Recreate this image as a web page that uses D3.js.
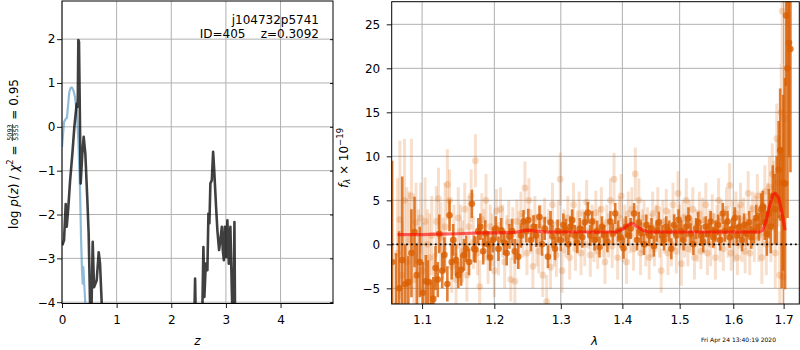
<!DOCTYPE html>
<html><head><meta charset="utf-8">
<script src="https://cdn.jsdelivr.net/npm/d3@7"></script>
<style>
body{margin:0;background:#fff;}
text{font-family:"DejaVu Sans",sans-serif;white-space:pre;}
</style></head>
<body>
<svg id="c" width="800" height="350"></svg>
<script>
// ---------------- DATA ----------------
// left panel: redshift PDF
const zBlack = [0.005,0.037,0.068,0.086,0.116,0.147,0.19,0.226,0.269,0.288,0.299,0.311,0.342,0.372,0.397,0.427,0.464,0.488,0.513,0.53,0.545,0.562,0.586,0.635,0.672,0.696,0.727,0.76,1.5,2.3,2.42,2.436,2.45,2.5,2.565,2.588,2.606,2.632,2.661,2.68,2.698,2.716,2.742,2.766,2.789,2.82,2.844,2.875,2.899,2.925,2.943,2.962,2.98,3.004,3.027,3.053,3.082,3.108,3.126,3.14,3.156,3.168,3.2,4.96];
const pBlack = [-2.70,-2.59,-1.76,-2.28,-1.83,-1.25,-0.61,0.0,0.53,0.46,1.98,1.94,-1.29,-0.61,-0.23,-0.61,-1.67,-2.44,-4.0,-4.8,-3.8,-2.62,-3.66,-3.5,-2.86,-3.12,-4.03,-9,-12,-9,-4.5,-3.46,-4.5,-7,-4.5,-2.74,-3.88,-3.12,-3.27,-1.98,-2.2,-1.29,-1.22,-0.57,-1.06,-1.83,-2.36,-2.81,-2.59,-2.28,-2.81,-3.04,-2.28,-2.97,-2.13,-3.12,-2.28,-3.73,-4.5,-4.2,-2.17,-4.5,-8,-12];
const zBlue = [0.0,0.037,0.073,0.09,0.134,0.155,0.178,0.207,0.238,0.269,0.299,0.33,0.348,0.366,0.379,0.39,0.403,0.427,0.45,0.5,0.6];
const pBlue = [-0.46,0.11,0.19,0.2,0.8,0.88,0.9,0.84,0.68,0.38,-0.3,-1.44,-2.51,-3.27,-3.58,-3.2,-3.5,-4.03,-5,-7,-12];
const zTicks = [0,1,2,3,4];
const pTicks = [-4,-3,-2,-1,0,1,2];
const titleLines = ["j104732p5741","ID=405    z=0.3092"];

// right panel: spectrum (light = individual, dark = combined)
const lamLight = [1.068,1.071,1.074,1.077,1.080,1.083,1.086,1.089,1.092,1.095,1.098,1.101,1.104,1.107,1.110,1.113,1.116,1.119,1.122,1.125,1.128,1.131,1.134,1.137,1.140,1.143,1.146,1.149,1.152,1.155,1.158,1.161,1.164,1.167,1.170,1.173,1.176,1.179,1.182,1.185,1.188,1.191,1.194,1.197,1.200,1.203,1.206,1.209,1.212,1.215,1.218,1.221,1.224,1.227,1.230,1.233,1.236,1.239,1.242,1.245,1.248,1.251,1.254,1.257,1.260,1.263,1.266,1.269,1.272,1.275,1.278,1.281,1.284,1.287,1.290,1.293,1.296,1.299,1.302,1.305,1.308,1.311,1.314,1.317,1.320,1.323,1.326,1.329,1.332,1.335,1.338,1.341,1.344,1.347,1.350,1.353,1.356,1.359,1.362,1.365,1.368,1.371,1.374,1.377,1.380,1.383,1.386,1.389,1.392,1.395,1.398,1.401,1.404,1.407,1.410,1.413,1.416,1.419,1.422,1.425,1.428,1.431,1.434,1.437,1.440,1.443,1.446,1.449,1.452,1.455,1.458,1.461,1.464,1.467,1.470,1.473,1.476,1.479,1.482,1.485,1.488,1.491,1.494,1.497,1.500,1.503,1.506,1.509,1.512,1.515,1.518,1.521,1.524,1.527,1.530,1.533,1.536,1.539,1.542,1.545,1.548,1.551,1.554,1.557,1.560,1.563,1.566,1.569,1.572,1.575,1.578,1.581,1.584,1.587,1.590,1.593,1.596,1.599,1.602,1.605,1.608,1.611,1.614,1.617,1.620,1.623,1.626,1.629,1.632,1.635,1.638,1.641,1.644,1.647,1.650,1.653,1.656,1.659,1.662,1.665,1.668,1.671,1.674,1.677,1.680,1.683,1.686,1.689,1.692,1.695,1.697,1.699,1.701];
const fluxLight = [-1.0,2.8,-3.5,5.0,-2.0,0.5,5.5,-4.0,2.5,-2.0,3.0,-3.0,2.6,0.0,-1.5,1.0,-4.5,2.6,5.2,0.8,-0.5,2.0,6.8,5.0,-2.5,0.5,-4.0,3.0,1.5,-0.8,4.0,-3.5,2.0,5.5,0.2,9.5,-1.0,-4.8,2.8,1.0,5.0,-1.5,2.0,0.5,-3.0,3.8,-0.5,4.0,1.5,-2.0,0.8,2.5,-4.0,1.2,-4.2,2.6,0.2,3.5,1.0,6.4,-1.0,5.0,1.5,-2.5,3.0,0.5,-0.8,2.0,-3.5,2.8,-6.5,1.5,-2.6,4.5,0.0,-1.2,2.5,7.4,-3.0,1.5,0.5,3.0,-1.5,2.0,4.5,-0.5,1.2,3.5,-1.0,2.0,0.0,4.8,1.5,-1.2,2.5,0.5,3.6,-0.8,1.8,4.0,0.5,-2.0,2.5,1.0,5.0,-0.2,7.4,2.0,-1.5,3.0,5.5,0.5,2.5,-2.0,3.5,1.0,4.0,-0.5,8.0,2.0,5.0,-1.0,1.5,3.0,0.0,2.2,-1.5,1.0,3.5,-0.5,2.0,4.0,0.5,-3.0,2.5,1.0,3.8,-1.0,2.0,0.0,4.5,1.5,-0.8,5.8,2.0,-2.2,3.0,1.0,5.0,-0.5,2.5,1.0,4.0,-1.5,2.0,0.5,3.5,-0.8,2.8,1.0,4.5,-1.0,2.0,0.0,3.2,1.5,-1.5,2.5,5.0,0.5,3.0,-0.5,2.0,4.0,1.0,6.7,-1.0,2.5,0.5,3.5,-1.5,2.0,4.5,0.0,2.8,-0.8,1.5,5.8,-1.0,2.0,4.0,0.5,3.0,5.5,1.0,3.5,-1.5,2.5,6.0,0.0,4.0,6.5,2.0,8.0,5.5,-1.0,12.0,7.0,-3.5,15.0,26.5,-3.7,14.3];
const errLight = [8.5,9.0,6.0,7.0,8.5,5.5,6.5,5.0,4.5,6.0,4.0,5.5,5.0,4.0,5.0,4.5,3.5,4.0,3.5,4.0,3.5,5.0,4.0,3.5,3.0,4.0,3.0,3.5,3.0,3.5,3.0,3.0,3.5,3.0,3.0,3.0,2.5,3.0,3.0,3.0,3.0,3.0,2.5,3.0,3.0,2.5,3.0,2.5,3.0,3.0,2.5,2.5,2.5,3.0,2.5,2.5,3.0,2.5,2.5,3.0,2.5,2.5,2.5,2.5,2.5,3.0,2.5,2.5,2.5,2.5,3.0,2.5,2.5,2.5,2.5,2.5,2.5,3.0,2.5,2.5,2.0,2.5,2.5,2.0,2.5,2.5,2.0,2.5,2.5,2.0,2.5,2.5,2.0,2.5,2.0,2.5,2.5,2.0,2.5,2.5,2.0,2.5,2.0,2.5,2.5,2.5,3.0,2.0,2.5,2.5,2.5,2.5,2.0,2.5,2.5,2.0,2.5,2.5,3.0,2.5,2.5,2.5,2.5,2.0,2.5,2.0,2.5,2.5,2.5,2.0,2.5,2.5,2.0,2.5,2.5,2.0,2.5,2.5,2.0,2.5,2.5,2.0,2.5,2.5,2.5,2.5,2.0,2.5,2.5,2.0,2.5,2.0,2.5,2.5,2.0,2.5,2.5,2.0,2.5,2.0,2.5,2.5,2.0,2.5,2.5,2.0,2.5,2.0,2.5,2.5,2.0,2.5,2.0,2.5,2.5,2.5,2.0,2.5,2.5,2.5,2.0,2.5,2.5,2.0,2.5,2.5,2.0,2.5,2.5,2.5,2.0,2.5,2.5,2.5,3.0,2.5,3.0,2.5,3.0,3.5,3.0,3.5,4.0,3.5,4.0,4.0,4.0,5.0,5.0,5.5,6.0,8.0,6.0,6.0];

const lamDark = [1.061,1.066,1.070,1.074,1.078,1.082,1.086,1.090,1.093,1.097,1.101,1.105,1.108,1.112,1.115,1.118,1.121,1.123,1.127,1.130,1.134,1.137,1.140,1.142,1.146,1.149,1.153,1.157,1.160,1.164,1.168,1.171,1.173,1.177,1.180,1.184,1.187,1.191,1.194,1.198,1.202,1.206,1.210,1.214,1.218,1.222,1.226,1.230,1.235,1.239,1.243,1.247,1.250,1.254,1.258,1.262,1.267,1.271,1.275,1.280,1.284,1.287,1.291,1.295,1.300,1.304,1.308,1.312,1.315,1.318,1.322,1.326,1.330,1.334,1.338,1.343,1.347,1.350,1.354,1.358,1.362,1.366,1.370,1.375,1.380,1.384,1.388,1.393,1.397,1.402,1.406,1.410,1.414,1.420,1.425,1.428,1.432,1.437,1.441,1.446,1.450,1.454,1.459,1.463,1.468,1.472,1.476,1.481,1.485,1.490,1.494,1.498,1.503,1.507,1.512,1.516,1.520,1.525,1.530,1.534,1.539,1.543,1.548,1.553,1.557,1.562,1.566,1.571,1.575,1.580,1.584,1.589,1.593,1.598,1.603,1.607,1.612,1.617,1.621,1.626,1.631,1.635,1.640,1.645,1.650,1.655,1.658,1.662,1.666,1.670,1.674,1.678,1.682,1.686,1.690,1.693,1.696,1.699,1.703,1.705,1.708,1.711,1.714,1.720];
const fluxDark = [-2.0,-7.0,-5.0,-1.8,-4.5,-4.3,-1.0,1.4,-3.5,-2.0,-5.5,-4.2,-4.3,-7.0,-6.2,-2.7,-4.0,1.2,-3.0,-1.2,-4.5,3.3,-2.0,0.5,-1.8,-3.5,-2.9,-1.2,-0.5,-2.0,4.6,-0.5,-0.6,1.5,2.0,-0.8,1.25,0.0,-1.5,0.5,1.8,-0.5,1.6,0.2,-1.0,0.9,1.5,-0.8,-1.4,1.0,2.6,1.5,2.75,0.5,2.0,1.0,3.1,0.0,1.8,-1.4,2.5,0.9,-0.5,1.5,0.5,2.2,1.6,0.0,2.0,2.75,1.0,0.2,1.8,0.8,2.5,3.6,1.0,2.6,0.5,1.5,-0.3,2.0,1.0,0.3,2.6,1.2,3.5,1.5,0.8,-0.45,2.0,1.0,1.8,3.5,0.5,2.5,1.25,0.0,2.2,1.0,1.8,-0.2,1.5,2.5,1.0,0.5,2.0,1.5,-0.5,2.2,1.0,2.8,1.5,0.5,2.0,3.0,1.2,0.0,1.8,2.5,1.0,0.3,2.0,1.2,2.6,0.8,1.5,2.2,0.5,3.5,1.5,2.6,0.8,1.8,3.0,1.0,2.0,0.5,2.2,1.2,2.5,0.8,1.5,3.0,2.0,4.0,4.3,2.5,1.2,3.5,2.0,5.5,4.0,5.0,8.5,10.7,3.0,7.0,6.9,26.0,20.0,22.9,22.2,28.0];
const errDark = [11.5,6.0,6.5,9.5,4.5,3.0,5.0,4.0,3.5,4.0,3.5,3.0,2.5,3.0,2.5,2.5,2.0,2.2,2.0,2.0,2.0,1.8,2.0,1.8,1.8,1.5,1.8,1.8,1.5,1.5,1.6,1.5,1.5,1.5,1.5,1.5,1.5,1.5,1.5,1.4,1.4,1.4,1.4,1.4,1.4,1.4,1.4,1.4,1.4,1.4,1.3,1.3,1.3,1.3,1.3,1.3,1.3,1.3,1.3,1.3,1.3,1.3,1.3,1.3,1.3,1.3,1.3,1.2,1.2,1.2,1.2,1.2,1.2,1.2,1.2,1.2,1.2,1.2,1.2,1.2,1.2,1.2,1.2,1.2,1.2,1.2,1.2,1.2,1.2,1.2,1.2,1.2,1.2,1.2,1.2,1.2,1.2,1.2,1.2,1.2,1.2,1.2,1.2,1.2,1.2,1.2,1.2,1.2,1.2,1.2,1.2,1.2,1.2,1.2,1.2,1.2,1.2,1.2,1.2,1.2,1.2,1.2,1.2,1.2,1.2,1.2,1.2,1.2,1.2,1.2,1.2,1.2,1.2,1.2,1.2,1.2,1.3,1.3,1.3,1.3,1.3,1.3,1.4,1.5,1.6,1.8,1.8,2.0,2.5,2.8,3.0,3.5,4.0,5.0,5.5,7.0,8.0,10.0,12.0,8.0,17.0,13.0,14.0];

const lamModel = [1.068,1.10,1.12,1.15,1.18,1.20,1.23,1.24,1.25,1.26,1.28,1.30,1.35,1.39,1.40,1.41,1.416,1.425,1.435,1.445,1.50,1.55,1.60,1.65,1.658,1.665,1.672,1.678,1.683,1.690,1.695,1.700,1.703];
const fluxModel = [1.1,1.1,1.15,1.2,1.3,1.3,1.35,1.5,1.6,1.5,1.4,1.4,1.4,1.4,1.7,2.2,2.4,2.0,1.6,1.4,1.4,1.4,1.4,1.4,1.6,2.8,4.5,5.6,5.8,5.3,4.0,2.5,1.6];
const lamTicks = [1.1,1.2,1.3,1.4,1.5,1.6,1.7];
const fluxTicks = [-5,0,5,10,15,20,25];
const timestamp = "Fri Apr 24 13:40:19 2020";

// ---------------- LAYOUT ----------------
const svg = d3.select("#c");
const L = {x0:62, x1:333, y0:1, y1:303.5};
const R = {x0:391.7, x1:799.3, y0:1.7, y1:304};
const FS = 12;
const gridC = "#b0b0b0";

const defs = svg.append("defs");
defs.append("clipPath").attr("id","clipL").append("rect")
  .attr("x",L.x0).attr("y",L.y0).attr("width",L.x1-L.x0).attr("height",L.y1-L.y0);
defs.append("clipPath").attr("id","clipR").append("rect")
  .attr("x",R.x0).attr("y",R.y0).attr("width",R.x1-R.x0).attr("height",R.y1-R.y0);

function styleAxis(g){
  g.select(".domain").remove();
  g.selectAll(".tick line").attr("stroke","#000").attr("stroke-width",0.9);
  g.selectAll(".tick text").attr("font-size",FS).attr("fill","#000").attr("font-family","DejaVu Sans");
}

// ========== LEFT PANEL ==========
const xL = d3.scaleLinear().domain([0,4.96]).range([L.x0,L.x1]);
const yL = d3.scaleLinear().domain([-4.03,2.87]).range([L.y1,L.y0]);

const gL = svg.append("g");
gL.append("g").selectAll("line").data(zTicks).join("line")
  .attr("x1",d=>xL(d)).attr("x2",d=>xL(d)).attr("y1",L.y0).attr("y2",L.y1)
  .attr("stroke",gridC).attr("stroke-width",1);
gL.append("g").selectAll("line").data(pTicks).join("line")
  .attr("x1",L.x0).attr("x2",L.x1).attr("y1",d=>yL(d)).attr("y2",d=>yL(d))
  .attr("stroke",gridC).attr("stroke-width",1);

const lineL = d3.line().x(d=>xL(d[0])).y(d=>yL(d[1]));
const cl = gL.append("g").attr("clip-path","url(#clipL)");
cl.append("path").datum(zBlue.map((z,i)=>[z,pBlue[i]]))
  .attr("d",lineL).attr("fill","none").attr("stroke","#1f77b4").attr("stroke-opacity",0.5)
  .attr("stroke-width",2.2).attr("stroke-linejoin","round");
cl.append("path").datum(zBlack.map((z,i)=>[z,pBlack[i]]))
  .attr("d",lineL).attr("fill","none").attr("stroke","#000").attr("stroke-opacity",0.75)
  .attr("stroke-width",2.6).attr("stroke-linejoin","round");

const axLB = gL.append("g").attr("transform",`translate(0,${L.y1})`)
  .call(d3.axisBottom(xL).tickValues(zTicks).tickFormat(d3.format("d")).tickSize(4.5).tickPadding(7));
styleAxis(axLB);
const axLL = gL.append("g").attr("transform",`translate(${L.x0},0)`)
  .call(d3.axisLeft(yL).tickValues(pTicks).tickFormat(d3.format("d")).tickSize(5).tickPadding(1.5));
styleAxis(axLL);
const axLR = gL.append("g").attr("transform",`translate(${L.x1},0)`)
  .call(d3.axisRight(yL).tickValues(pTicks).tickFormat("").tickSize(-3));
styleAxis(axLR);
gL.append("rect").attr("x",L.x0).attr("y",L.y0).attr("width",L.x1-L.x0).attr("height",L.y1-L.y0)
  .attr("fill","none").attr("stroke","#000").attr("stroke-width",1);

gL.selectAll("text.ttl").data(titleLines).join("text").attr("class","ttl")
  .attr("x",319).attr("y",(d,i)=>24+i*14.2).attr("text-anchor","end")
  .attr("font-size",FS).attr("fill","#000").text(d=>d);

gL.append("text").attr("x",(L.x0+L.x1)/2).attr("y",344.5).attr("text-anchor","middle")
  .attr("font-size",FS).attr("font-style","italic").text("z");

{
  const g = gL.append("g");
  const t1 = g.append("text").attr("font-size",FS).attr("x",0).attr("y",0);
  t1.append("tspan").text("log ");
  t1.append("tspan").attr("font-style","italic").text("p");
  t1.append("tspan").text("(");
  t1.append("tspan").attr("font-style","italic").text("z");
  t1.append("tspan").text(") / ");
  t1.append("tspan").attr("font-style","italic").text("χ");
  t1.append("tspan").attr("font-size",8.5).attr("dy",-4.8).text("2");
  t1.append("tspan").attr("dy",4.8).text(" = ");
  const w1 = t1.node().getComputedTextLength();
  const fx = w1 + 0.8;
  const num = g.append("text").attr("font-size",6.5).attr("x",fx).attr("y",-5.9).text("5093");
  const den = g.append("text").attr("font-size",6.5).attr("x",fx).attr("y",0).text("5355");
  const wf = Math.max(num.node().getComputedTextLength(), den.node().getComputedTextLength());
  g.append("line").attr("x1",fx-0.3).attr("x2",fx+wf+0.3).attr("y1",-5.1).attr("y2",-5.1)
    .attr("stroke","#000").attr("stroke-width",0.6);
  const t3 = g.append("text").attr("font-size",FS).attr("x",fx+wf+0.8).attr("y",0).text(" = 0.95");
  const W = fx + wf + 0.8 + t3.node().getComputedTextLength();
  g.attr("transform",`translate(17.6,${154+W/2}) rotate(-90)`);
}

// ========== RIGHT PANEL ==========
const xR = d3.scaleLog().domain([1.0605,1.7324]).range([R.x0,R.x1]);
const yR = d3.scaleLinear().domain([-6.78,27.57]).range([R.y1,R.y0]);

const gR = svg.append("g");
gR.append("g").selectAll("line").data(lamTicks).join("line")
  .attr("x1",d=>xR(d)).attr("x2",d=>xR(d)).attr("y1",R.y0).attr("y2",R.y1)
  .attr("stroke",gridC).attr("stroke-width",1);
gR.append("g").selectAll("line").data(fluxTicks).join("line")
  .attr("x1",R.x0).attr("x2",R.x1).attr("y1",d=>yR(d)).attr("y2",d=>yR(d))
  .attr("stroke",gridC).attr("stroke-width",1);

const cr = gR.append("g").attr("clip-path","url(#clipR)");
const orange = "#d95f02";
const light = lamLight.map((l,i)=>({l, f:fluxLight[i], e:errLight[i]}));
const dark = lamDark.map((l,i)=>({l, f:fluxDark[i], e:errDark[i]}));

const gLight = cr.append("g");
gLight.selectAll("line").data(light).join("line")
  .attr("x1",d=>xR(d.l)).attr("x2",d=>xR(d.l)).attr("y1",d=>yR(d.f-d.e)).attr("y2",d=>yR(d.f+d.e))
  .attr("stroke",orange).attr("stroke-opacity",0.2).attr("stroke-width",3);
gLight.selectAll("circle").data(light).join("circle")
  .attr("cx",d=>xR(d.l)).attr("cy",d=>yR(d.f)).attr("r",3.4)
  .attr("fill",orange).attr("fill-opacity",0.22);

const gDark = cr.append("g");
gDark.selectAll("line").data(dark).join("line")
  .attr("x1",d=>xR(d.l)).attr("x2",d=>xR(d.l)).attr("y1",d=>yR(d.f-d.e)).attr("y2",d=>yR(d.f+d.e))
  .attr("stroke",orange).attr("stroke-opacity",0.8).attr("stroke-width",2.6);
gDark.selectAll("circle").data(dark).join("circle")
  .attr("cx",d=>xR(d.l)).attr("cy",d=>yR(d.f)).attr("r",3.3)
  .attr("fill",orange).attr("fill-opacity",0.8);

cr.append("path").datum(lamModel.map((l,i)=>[l,fluxModel[i]]))
  .attr("d",d3.line().x(d=>xR(d[0])).y(d=>yR(d[1])))
  .attr("fill","none").attr("stroke","#ff0000").attr("stroke-opacity",0.6).attr("stroke-width",3.2)
  .attr("stroke-linejoin","round");

cr.append("line").attr("x1",R.x0).attr("x2",R.x1).attr("y1",yR(0)).attr("y2",yR(0))
  .attr("stroke","#000").attr("stroke-width",1.8).attr("stroke-dasharray","1.8,3");

const axRB = gR.append("g").attr("transform",`translate(0,${R.y1})`)
  .call(d3.axisBottom(xR).tickValues(lamTicks).tickFormat(d3.format(".1f")).tickSize(5).tickPadding(6.5));
styleAxis(axRB);
const axRL = gR.append("g").attr("transform",`translate(${R.x0},0)`)
  .call(d3.axisLeft(yR).tickValues(fluxTicks).tickFormat(d3.format("d")).tickSize(5).tickPadding(6.5));
styleAxis(axRL);
gR.append("rect").attr("x",R.x0).attr("y",R.y0).attr("width",R.x1-R.x0).attr("height",R.y1-R.y0)
  .attr("fill","none").attr("stroke","#000").attr("stroke-width",1);

gR.append("text").attr("x",(R.x0+R.x1)/2 - 1).attr("y",344.5).attr("text-anchor","middle")
  .attr("font-size",FS).attr("font-style","italic").text("λ");

{
  const t = gR.append("text").attr("font-size",FS).attr("text-anchor","middle")
    .attr("transform","translate(347.5,158) rotate(-90)");
  t.append("tspan").attr("font-style","italic").text("f");
  t.append("tspan").attr("font-style","italic").attr("font-size",8.5).attr("dy",2.5).text("λ");
  t.append("tspan").attr("dy",-2.5).text(" × 10");
  t.append("tspan").attr("font-size",8.5).attr("dy",-5).text("−19");
}

svg.append("text").attr("x",701).attr("y",341.5).attr("font-size",6).attr("fill","#000").text(timestamp);
</script>
</body></html>
